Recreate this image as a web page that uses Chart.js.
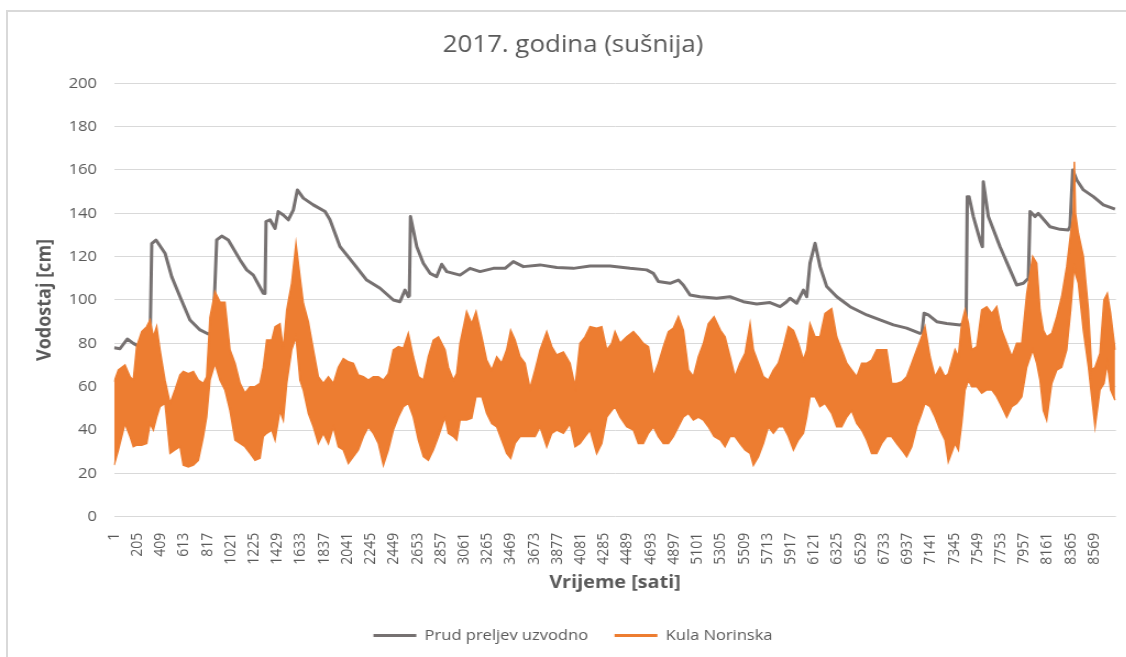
<!DOCTYPE html>
<html>
<head>
<meta charset="utf-8">
<title>2017. godina (sušnija)</title>
<script src="https://cdn.jsdelivr.net/npm/chart.js@4.4.1/dist/chart.umd.min.js"></script>
<style>
  html, body { margin: 0; padding: 0; background: #fff; overflow: hidden; }
  /* okvir grafikona */
  #okvir { position: absolute; left: 6px; top: 10px; width: 1200px; height: 700px;
           border-left: 2px solid #d9d9d9; border-top: 2px solid #d9d9d9; }
  #vodostaj { position: absolute; left: 0; top: 0; }
</style>
</head>
<body>
<div id="okvir"></div>
<!-- platno je malo uže pa se razvlači u širinu -->
<canvas id="vodostaj" width="1042" height="657" style="width:1146px;height:657px"></canvas>
<script>
// oznake na osi x (sati)
const oznakeSati = [1, 205, 409, 613, 817, 1021, 1225, 1429, 1633, 1837, 2041, 2245, 2449, 2653,
  2857, 3061, 3265, 3469, 3673, 3877, 4081, 4285, 4489, 4693, 4897, 5101, 5305, 5509, 5713,
  5917, 6121, 6325, 6529, 6733, 6937, 7141, 7345, 7549, 7753, 7957, 8161, 8365, 8569];

// Prud preljev uzvodno - vodostaj [cm]
const satiPrud = [1, 52, 116, 169, 221, 305, 315, 330, 367, 446,
  504, 577, 664, 752, 824, 866, 877, 898, 942, 999,
  1102, 1160, 1218, 1305, 1320, 1329, 1364, 1408, 1436, 1480,
  1524, 1568, 1603, 1655, 1742, 1845, 1888, 1976, 2092, 2209,
  2326, 2442, 2500, 2544, 2573, 2582, 2592, 2647, 2704, 2763,
  2821, 2865, 2909, 3025, 3112, 3200, 3316, 3419, 3491, 3579,
  3725, 3871, 4016, 4162, 4337, 4511, 4657, 4715, 4759, 4861,
  4934, 4977, 5036, 5123, 5269, 5385, 5502, 5619, 5735, 5823,
  5881, 5910, 5969, 6027, 6056, 6085, 6129, 6173, 6231, 6319,
  6435, 6581, 6697, 6814, 6930, 7046, 7064, 7082, 7119, 7193,
  7280, 7397, 7450, 7460, 7475, 7513, 7571, 7592, 7600, 7644,
  7746, 7834, 7892, 7950, 7994, 8009, 8052, 8081, 8183, 8271,
  8343, 8358, 8382, 8417, 8475, 8562, 8649, 8752];
const prud = [78, 77.5, 82, 80, 78.5, 79, 80, 126, 127.7, 121.6,
  110.8, 101.5, 90.8, 86.2, 84.3, 85, 100, 127.7, 129.5, 127.7,
  118.5, 113.9, 111.5, 103.1, 103, 136.2, 137, 133, 140.8, 139.2,
  137, 141.6, 150.8, 147, 143.9, 140.8, 137, 124.6, 117, 109.2,
  105.4, 100, 99.2, 104.6, 101.5, 102, 138.5, 124.6, 117, 112.3,
  110.8, 116.5, 113.1, 111.5, 114.6, 113.1, 114.6, 114.6, 117.7, 115.4,
  116.2, 115, 114.6, 115.7, 115.7, 114.6, 113.9, 112.3, 108.5, 107.7,
  109.2, 106.9, 102.3, 101.5, 100.8, 101.5, 99.2, 98.2, 98.8, 96.9,
  99.2, 100.8, 98.5, 104.6, 101.5, 117, 126.2, 115.4, 106.2, 101.5,
  96.9, 93.1, 90.8, 88.5, 87, 84.6, 85, 93.9, 93.1, 90,
  89.2, 88.5, 90, 147.7, 147.7, 138.5, 127.7, 124.6, 154.6, 138.5,
  124.6, 113.9, 106.9, 107.7, 110, 140.8, 138.5, 140, 133.8, 132.6,
  132.3, 134, 160, 155.4, 150.8, 147.7, 143.9, 141.9];

// Kula Norinska - dnevno kolebanje, gornja i donja granica [cm]
const satiKula = [1, 38, 96, 140, 169, 198, 242, 286, 315, 344,
  373, 402, 446, 490, 533, 577, 606, 650, 694, 737,
  781, 810, 839, 883, 927, 970, 1014, 1058, 1102, 1145,
  1189, 1233, 1276, 1305, 1335, 1379, 1408, 1451, 1480, 1510,
  1553, 1591, 1626, 1655, 1699, 1743, 1786, 1830, 1874, 1918,
  1961, 2005, 2049, 2093, 2136, 2180, 2224, 2267, 2311, 2355,
  2398, 2442, 2486, 2530, 2573, 2617, 2661, 2705, 2748, 2792,
  2836, 2894, 2923, 2967, 2996, 3025, 3083, 3127, 3165, 3215,
  3258, 3302, 3346, 3389, 3433, 3468, 3506, 3550, 3593, 3637,
  3681, 3725, 3783, 3827, 3870, 3929, 3987, 4031, 4074, 4118,
  4162, 4220, 4264, 4308, 4351, 4380, 4424, 4482, 4541, 4584,
  4628, 4672, 4716, 4759, 4803, 4847, 4890, 4934, 4978, 5022,
  5065, 5109, 5153, 5196, 5246, 5302, 5342, 5386, 5429, 5473,
  5517, 5561, 5590, 5634, 5677, 5721, 5765, 5808, 5852, 5896,
  5940, 5983, 6027, 6056, 6085, 6129, 6172, 6216, 6274, 6318,
  6362, 6406, 6449, 6493, 6537, 6580, 6624, 6668, 6712, 6755,
  6799, 6843, 6887, 6930, 6974, 7018, 7061, 7090, 7134, 7178,
  7222, 7265, 7294, 7353, 7382, 7411, 7440, 7470, 7499, 7543,
  7586, 7630, 7674, 7717, 7761, 7805, 7849, 7892, 7936, 7980,
  8032, 8067, 8096, 8125, 8154, 8198, 8242, 8285, 8329, 8364,
  8386, 8396, 8406, 8431, 8475, 8519, 8548, 8577, 8620, 8655,
  8684, 8713, 8752];
const kulaMax = [62.3, 67.7, 70, 64.6, 63, 78.5, 85.4, 87.7, 90.8, 83,
  87.7, 77, 63, 52.3, 58.5, 65.4, 67, 66, 67, 63,
  61.5, 64.6, 92, 103.8, 99, 99, 77, 70.8, 61.5, 57,
  60, 60, 61.5, 69, 81.5, 81.5, 87.7, 89, 77, 95.4,
  107.7, 126, 110.8, 98.5, 90, 77, 64.6, 61.5, 64.6, 61.5,
  69, 73, 71.5, 70.8, 65.4, 64.6, 63, 64.6, 64.6, 63,
  66, 77, 78.5, 77.7, 84.6, 73.8, 64.6, 63, 73.8, 81.5,
  83, 77, 69, 63, 66, 80, 94.6, 89, 94.6, 83,
  72.3, 67.7, 73.8, 70.8, 77, 86, 81.5, 73.8, 70.8, 59.2,
  67.7, 77, 85.4, 78.5, 74.6, 76, 70.8, 60, 80, 83,
  87.7, 87, 87.7, 77, 80, 85.4, 80, 83, 85.4, 83,
  80, 78.5, 64.6, 70.8, 78.5, 85.4, 87, 92.3, 86, 67.7,
  64.6, 73.8, 80, 89, 92.3, 86, 83, 73.8, 64.6, 70.8,
  75.4, 89, 77, 70.8, 64.6, 63, 67.7, 70.8, 78.5, 87.7,
  86, 80, 72.3, 77, 89, 83, 83, 93.8, 96, 83,
  77, 70.8, 67.7, 64.6, 70.8, 70.8, 72.3, 77, 77, 77,
  61.5, 61.5, 62.3, 64.6, 70.8, 77, 83, 87.7, 73.8, 64.6,
  69, 64.6, 66, 77, 73.8, 89.2, 95.4, 89.2, 77, 78.5,
  95.4, 96.9, 93.8, 96.9, 86, 80, 73.8, 80, 80, 103,
  120, 117, 95.4, 86, 83, 84.6, 92.3, 101.5, 115.4, 130.8,
  140, 163.8, 140, 130.8, 120, 95.4, 67.7, 69, 75.4, 100,
  103, 93.8, 77];
const kulaMin = [23.8, 30.8, 43, 37, 32.3, 33, 33, 33.8, 43, 40,
  46, 50.8, 52.3, 29.2, 30.8, 32.3, 23.8, 23, 23.8, 26,
  37, 46, 63, 70.8, 63, 58.5, 49, 35.4, 33.8, 32.3,
  29.2, 26, 27, 37, 38.5, 40, 35.4, 49, 44.6, 61.5,
  77, 83, 63, 58.5, 47.7, 41.5, 33.8, 38.5, 33.8, 41.5,
  32.3, 30.8, 24.6, 27.7, 30.8, 37, 41.5, 38.5, 33.8, 23.8,
  30.8, 40, 46, 50.8, 52.3, 46, 35.4, 27.7, 26, 30.8,
  37, 46, 38.5, 37, 35.4, 44.6, 44.6, 45.4, 55.4, 55.4,
  47.7, 43, 41.5, 35.4, 29.2, 26.9, 33.8, 37, 37, 37,
  37, 41.5, 32.3, 38.5, 40, 38.5, 43, 32.3, 33.8, 37,
  40, 29.2, 33.8, 46, 49, 50.8, 46, 41.5, 40, 33.8,
  33.8, 38.5, 41.5, 37, 33.8, 33.8, 37, 41.5, 46, 47.7,
  44.6, 46, 44.6, 41.5, 37, 35.4, 32.3, 37, 37, 33.8,
  30.8, 29.2, 23.8, 27.7, 33.8, 41.5, 38.5, 41.5, 41.5, 37,
  30.8, 35.4, 38.5, 46, 55.4, 55.4, 50.8, 52.3, 47.7, 41.5,
  41.5, 46, 49, 43, 40, 35.4, 29.2, 29.2, 33.8, 37,
  37, 33.8, 30.8, 27.7, 32.3, 41.5, 47.7, 52.3, 50.8, 46,
  40, 35.4, 25.4, 33.8, 30.8, 43, 58.5, 63, 60, 60,
  57, 58.5, 58.5, 55.4, 50.8, 46, 50.8, 52.3, 55.4, 69,
  77, 70.8, 63, 49, 44.6, 61.5, 67.7, 69, 77, 95.4,
  110, 117, 112, 107.7, 86, 69, 55.4, 41.5, 58.5, 61.5,
  70.8, 58.5, 53.8];

const SIVA = '#767171';
const NARANCASTA = '#ed7d31';
const TEKST = '#595959';
const FONT = "'Open Sans', sans-serif";

function tocke(sati, vrijednosti) {
    return sati.map((h, i) => ({ x: h, y: vrijednosti[i] }));
}

const ctx = document.getElementById('vodostaj').getContext('2d');
new Chart(ctx, {
    type: 'line',
    data: {
        datasets: [
            {
                label: 'Prud preljev uzvodno',
                data: tocke(satiPrud, prud),
                borderColor: SIVA,
                backgroundColor: SIVA,
                borderWidth: 3,
                borderJoinStyle: 'round',
                pointRadius: 0,
                fill: false,
                order: 2
            },
            {
                label: 'Kula Norinska',
                data: tocke(satiKula, kulaMax),
                borderColor: NARANCASTA,
                backgroundColor: NARANCASTA,
                borderWidth: 1.5,
                pointRadius: 0,
                fill: false,
                order: 1
            },
            {
                // donja granica, pojas se puni do gornje
                label: 'Kula Norinska (min)',
                data: tocke(satiKula, kulaMin),
                borderColor: NARANCASTA,
                backgroundColor: NARANCASTA,
                borderWidth: 1.5,
                pointRadius: 0,
                fill: '-1',
                order: 1
            }
        ]
    },
    options: {
        responsive: false,
        animation: false,
        events: [],
        layout: { padding: { left: 27.3, right: 27.3, top: 0, bottom: 4 } },
        plugins: {
            title: {
                display: true,
                text: '2017. godina (sušnija)',
                color: TEKST,
                font: { family: FONT, size: 23.5, weight: 'normal' },
                padding: { top: 30.9, bottom: 24.2 }
            },
            legend: {
                position: 'bottom',
                labels: {
                    color: TEKST,
                    font: { family: FONT, size: 15 },
                    boxWidth: 39,
                    boxHeight: 3,
                    padding: 24,
                    generateLabels: () => [
                        { text: 'Prud preljev uzvodno', fillStyle: SIVA, strokeStyle: SIVA, lineWidth: 0, fontColor: TEKST, datasetIndex: 0, hidden: false },
                        { text: 'Kula Norinska', fillStyle: NARANCASTA, strokeStyle: NARANCASTA, lineWidth: 0, fontColor: TEKST, datasetIndex: 1, hidden: false }
                    ]
                }
            },
            tooltip: { enabled: false }
        },
        scales: {
            x: {
                type: 'linear',
                min: 0,
                max: 8760,
                afterBuildTicks: (axis) => {
                    axis.ticks = oznakeSati.map(v => ({ value: v }));
                },
                afterFit: (scale) => { scale.height = 87.3; },
                grid: { display: false },
                border: { display: false },
                ticks: {
                    autoSkip: false,
                    minRotation: 90,
                    maxRotation: 90,
                    padding: 8,
                    color: TEKST,
                    font: { family: FONT, size: 14 },
                    callback: (value) => String(value)
                },
                title: {
                    display: true,
                    text: 'Vrijeme [sati]',
                    color: TEKST,
                    font: { family: FONT, size: 18, weight: 'bold' },
                    padding: { top: 0, bottom: 10.2 }
                }
            },
            y: {
                min: 0,
                max: 200,
                afterFit: (scale) => { scale.width = 76.35; },
                grid: { color: '#d9d9d9', lineWidth: 1, drawTicks: false },
                border: { display: false },
                ticks: {
                    stepSize: 20,
                    padding: 15.5,
                    color: TEKST,
                    font: { family: FONT, size: 15 }
                },
                title: {
                    display: true,
                    text: 'Vodostaj [cm]',
                    color: TEKST,
                    font: { family: FONT, size: 18, weight: 'bold' },
                    padding: { top: 2.8, bottom: 0 }
                }
            }
        }
    }
});
</script>
</body>
</html>
